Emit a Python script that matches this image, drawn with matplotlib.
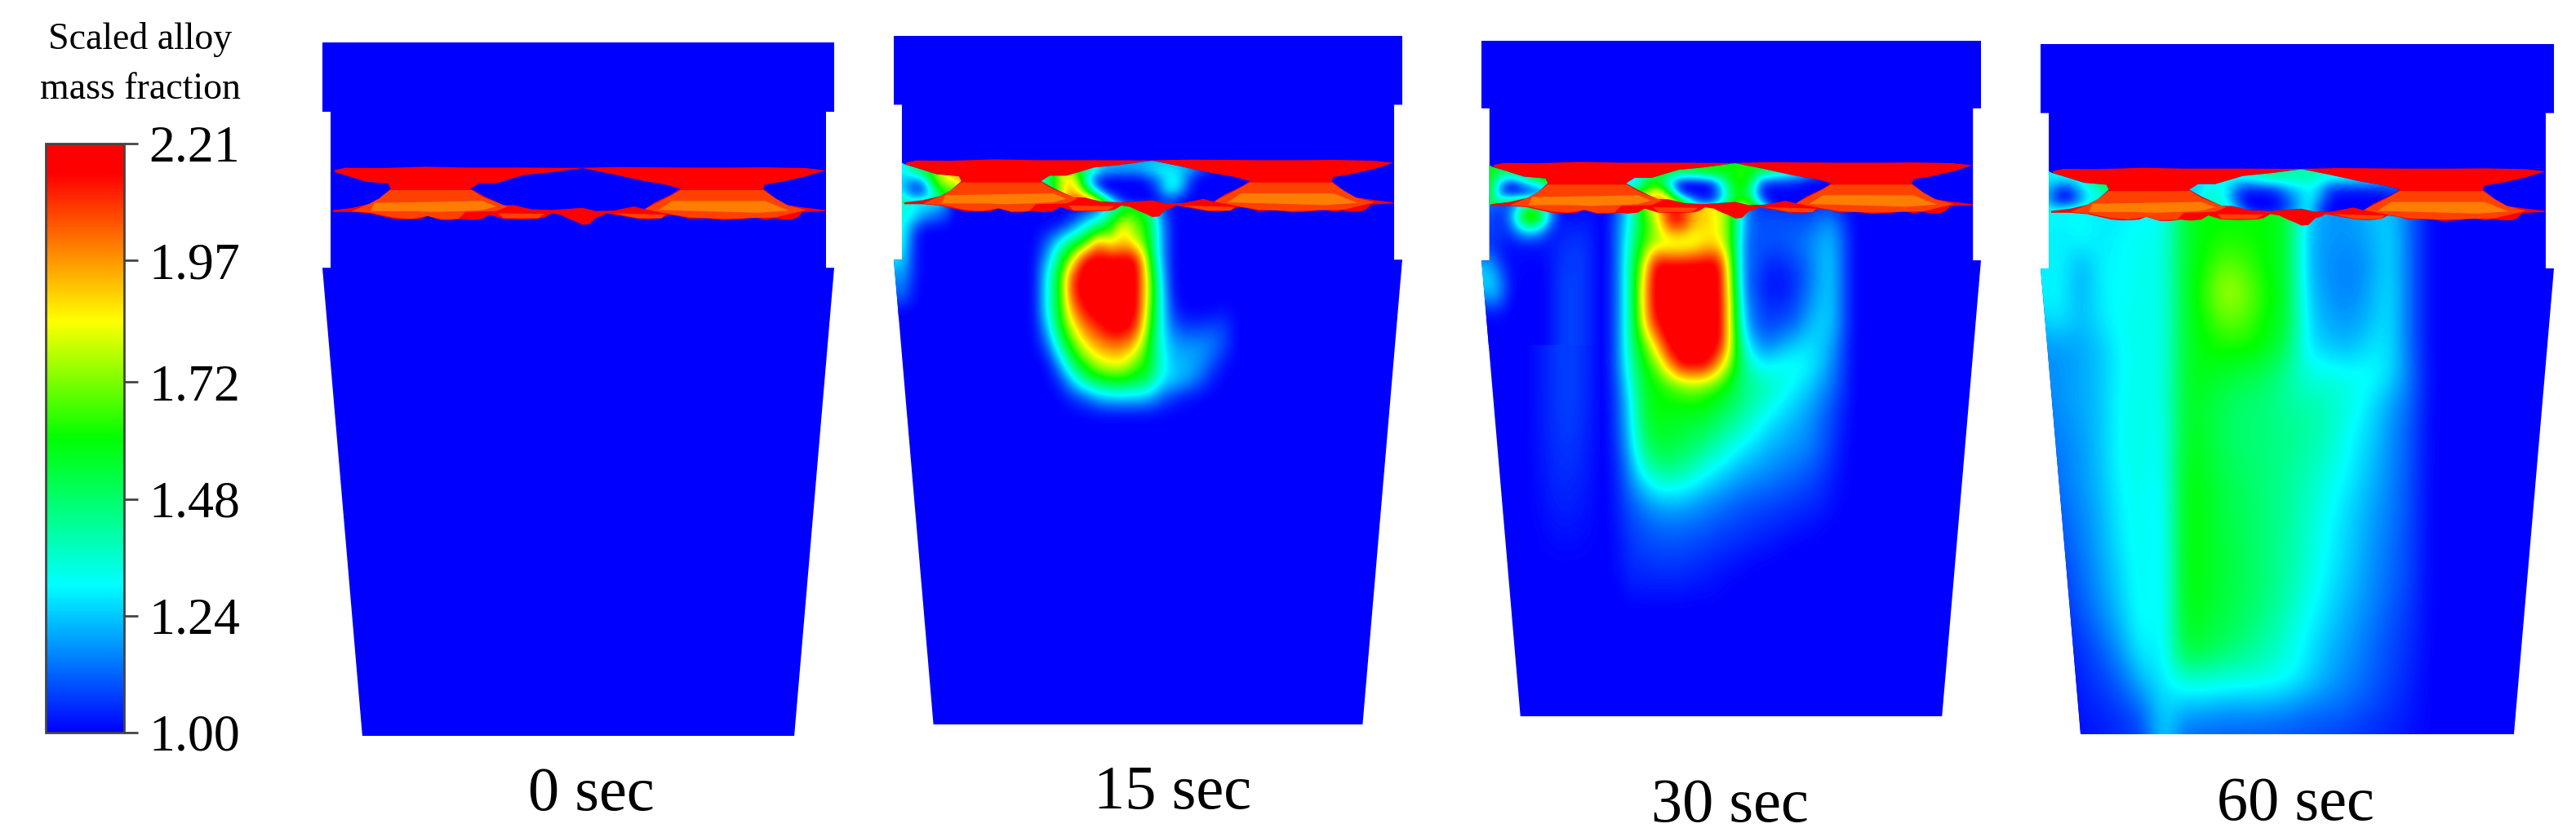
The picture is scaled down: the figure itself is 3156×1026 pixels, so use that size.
import numpy as np
import matplotlib
matplotlib.use("Agg")
import matplotlib.pyplot as plt
from matplotlib.cm import ScalarMappable
from matplotlib.colors import LinearSegmentedColormap, Normalize
from matplotlib.patches import Polygon

W, H = 3156, 1026
plt.rcParams['font.family'] = ['Liberation Serif', 'DejaVu Serif']

tick_values = [1.00, 1.24, 1.48, 1.72, 1.97, 2.21]
times = ["0 sec", "15 sec", "30 sec", "60 sec"]

# mould outline, % of the panel width / height (y goes down)
mould_x = [0, 100, 100, 98.4, 98.4, 100, 92.2, 7.8, 0, 1.6, 1.6, 0]
mould_y = [0, 0, 10, 10, 32.5, 32.5, 100, 100, 32.5, 32.5, 10, 10]

# slag band outlines, read in px of a crop of the first panel
band_u = [70, 100, 200, 330, 450, 600, 780, 900, 1100, 1230, 1320, 1440, 1495,
          1440, 1370, 1320, 1315, 1350, 1385, 1440, 1495,
          1495, 1460, 1430, 1415, 1400, 1375, 1350, 1320, 1290, 1250, 1200, 1150, 1100, 1070, 1040,
          1020, 985, 950, 905, 860, 845, 830, 810, 790, 770, 750, 725, 700, 680, 660, 610, 560,
          520, 500, 470, 440, 410, 380, 340, 320, 300, 270, 240, 205, 170, 120, 65,
          65, 120, 170, 200, 232, 225, 160, 110, 70]
band_v = [112, 104, 105, 100, 103, 103, 104, 101, 103, 103, 102, 105, 113,
          135, 155, 165, 180, 215, 240, 250, 258,
          262, 264, 266, 285, 292, 293, 288, 292, 285, 292, 295, 288, 290, 280, 275,
          288, 292, 290, 280, 270, 280, 285, 310, 312, 300, 290, 275, 270, 285, 290, 292, 290,
          275, 290, 294, 290, 295, 295, 280, 290, 292, 293, 290, 280, 270, 265, 265,
          258, 250, 235, 215, 180, 162, 155, 135, 120]
eye_u = [465, 490, 540, 620, 700, 790, 870, 960, 1030, 1075, 1050, 1000, 970, 940, 880, 830,
         790, 700, 640, 590, 560, 500]
eye_v = [180, 160, 160, 130, 120, 105, 125, 150, 165, 180, 200, 230, 255, 245, 260, 262,
         250, 258, 255, 240, 240, 205]
notch_u = [58, 70, 110, 160, 225, 232, 200, 170, 120, 65, 58]
notch_v = [113, 120, 135, 155, 162, 180, 215, 235, 250, 258, 262]
mid_left_u = [232, 468, 500, 572, 540, 450, 430, 380, 340, 290, 240, 175, 120, 170, 200]
mid_left_v = [185, 185, 210, 245, 262, 265, 290, 292, 280, 290, 285, 268, 262, 235, 212]
mid_right_u = [1075, 1315, 1350, 1385, 1440, 1350, 1200, 1100, 1040, 970, 1040]
mid_right_v = [185, 185, 215, 240, 258, 285, 290, 285, 272, 255, 210]
light_left_u = [185, 500, 540, 500, 440, 360, 300, 175]
light_left_v = [232, 225, 245, 258, 262, 265, 262, 262]
light_right_u = [1050, 1320, 1390, 1300, 1130, 1010]
light_right_v = [225, 225, 260, 268, 262, 258]
fringe_left_u = [545, 680, 660, 560]
fringe_left_v = [270, 272, 288, 288]
fringe_right_u = [880, 1030, 1020, 950]
fringe_right_v = [270, 275, 288, 288]

MID_VALUE = 2.07
LIGHT_VALUE = 2.0

# fields below: rows top to bottom, values in scaled alloy mass fraction
notch_xs = [0, 14]
notch_ys = [18, 27]
eye_xs = [28, 72]
eye_ys = [18, 27]

p15_plume_xs = [27.5, 67.5]
p15_plume_ys = [25, 55]
p15_plume = [
    [1, 1, 1, 1, 1, 1.1, 1.3, 1.5, 1.6, 1.5, 1.1, 1, 1, 1, 1, 1, 1],
    [1, 1, 1, 1.1, 1.3, 1.4, 1.6, 1.9, 1.7, 1.6, 1.2, 1, 1, 1, 1, 1, 1],
    [1, 1.1, 1.3, 1.5, 1.6, 2.0, 1.8, 1.9, 1.8, 1.6, 1.2, 1, 1, 1, 1, 1, 1],
    [1, 1.2, 1.5, 1.8, 2.2, 2.2, 2.2, 2.2, 2.2, 1.7, 1.2, 1, 1, 1, 1, 1, 1],
    [1, 1.3, 1.6, 2.1, 2.2, 2.2, 2.2, 2.2, 2.2, 1.8, 1.25, 1, 1, 1, 1, 1, 1],
    [1, 1.3, 1.6, 2.1, 2.2, 2.2, 2.2, 2.2, 2.2, 1.8, 1.3, 1, 1, 1, 1, 1, 1],
    [1, 1.3, 1.6, 1.95, 2.15, 2.2, 2.2, 2.2, 2.2, 1.75, 1.3, 1.05, 1, 1, 1, 1.02, 1],
    [1, 1.2, 1.55, 1.8, 2.0, 2.1, 2.2, 2.2, 2.1, 1.7, 1.3, 1.12, 1.08, 1.08, 1.1, 1.08, 1],
    [1, 1.1, 1.4, 1.65, 1.85, 1.95, 2.0, 2.0, 1.9, 1.6, 1.32, 1.2, 1.18, 1.18, 1.15, 1.08, 1],
    [1, 1, 1.2, 1.5, 1.65, 1.8, 1.85, 1.85, 1.7, 1.6, 1.35, 1.22, 1.22, 1.18, 1.1, 1.02, 1],
    [1, 1, 1.05, 1.25, 1.45, 1.55, 1.6, 1.6, 1.55, 1.5, 1.3, 1.25, 1.2, 1.12, 1.03, 1, 1],
    [1, 1, 1, 1.05, 1.1, 1.2, 1.25, 1.25, 1.25, 1.22, 1.12, 1.05, 1.02, 1, 1, 1, 1],
    [1, 1, 1, 1, 1, 1, 1, 1, 1, 1, 1, 1, 1, 1, 1, 1, 1],
]
p15_wall_xs = [0, 12]
p15_wall_ys = [24, 40]
p15_wall = [
    [1.3, 1.35, 1.3, 1.3, 1.3, 1.2, 1],
    [1.35, 1.35, 1.3, 1.2, 1.15, 1.1, 1],
    [1.35, 1.3, 1.1, 1, 1, 1, 1],
    [1.35, 1.3, 1.05, 1, 1, 1, 1],
    [1.3, 1.25, 1.05, 1, 1, 1, 1],
    [1.2, 1.2, 1.05, 1, 1, 1, 1],
    [1.15, 1.15, 1.03, 1, 1, 1, 1],
    [1.1, 1.1, 1.02, 1, 1, 1, 1],
    [1, 1, 1, 1, 1, 1, 1],
]
p15_notch = [
    [1.3, 1.3, 1.4, 1.5, 1.6, 1.8, 1.9, 2.0],
    [1.3, 1.3, 1.5, 1.6, 1.7, 1.8, 2.0, 2.1],
    [1.25, 1.25, 1.15, 1.25, 1.7, 1.8, 1.9, 1.95],
    [1.3, 1.25, 1.05, 1.1, 1.4, 1.7, 1.6, 1.8],
    [1.4, 1.4, 1.3, 1.35, 1.4, 1.5, 1.7, 1.9],
    [1.5, 1.6, 1.7, 1.8, 1.9, 2.0, 2.0, 2.0],
    [1.3, 1.3, 1.7, 1.8, 1.9, 2.0, 2.0, 2.0],
]
p15_eye = [
    [1.6, 1.6, 1.6, 1.7, 1.5, 1.4, 1.3, 1.25, 1.2, 1.2, 1.2, 1.2, 1.2, 1.2, 1.2, 1.2, 1.2, 1.1, 1.05, 1, 1, 1, 1],
    [1.5, 1.5, 1.6, 1.8, 1.6, 1.5, 1.3, 1.2, 1.2, 1.2, 1.2, 1.25, 1.3, 1.3, 1.25, 1.2, 1.1, 1.05, 1, 1, 1, 1, 1],
    [1.4, 1.4, 1.7, 1.9, 1.8, 1.3, 1.05, 1, 1, 1, 1, 1.05, 1.15, 1.3, 1.3, 1.1, 1, 1, 1, 1, 1, 1, 1],
    [1.4, 1.4, 1.6, 1.9, 1.9, 1.6, 1.2, 1, 1, 1, 1, 1, 1.1, 1.3, 1.25, 1.05, 1, 1, 1, 1, 1, 1, 1],
    [1.8, 1.8, 1.8, 2.0, 2.1, 2.1, 1.9, 1.4, 1.1, 1, 1, 1, 1, 1.05, 1, 1, 1, 1, 1, 1, 1, 1, 1],
    [2.2, 2.2, 2.2, 2.2, 2.2, 2.2, 2.2, 2.0, 1.6, 1.3, 1.2, 1.2, 1.2, 1.2, 1.1, 1, 1, 1, 1, 1, 1, 1, 1],
    [2.2, 2.2, 2.2, 2.2, 2.2, 2.2, 2.2, 2.2, 2.2, 2.2, 2.2, 2.2, 2.2, 2.2, 2.2, 2.2, 2.2, 2.2, 2.2, 2.2, 2.2, 2.2, 2.2],
]

p30_plume_xs = [25, 75]
p30_plume_ys = [24, 87]
p30_plume = [
    [1, 1.1, 1.3, 1.7, 1.9, 2.1, 2.1, 1.9, 1.9, 1.8, 1.7, 1.2, 1.05, 1.05, 1.05, 1.05, 1.05, 1.05, 1.05, 1, 1],
    [1, 1.15, 1.35, 1.6, 1.75, 2.15, 2.2, 1.95, 1.9, 1.85, 1.65, 1.2, 1.1, 1.1, 1.1, 1.1, 1.1, 1.15, 1.18, 1.08, 1],
    [1, 1.15, 1.4, 1.65, 1.75, 1.7, 1.7, 1.75, 1.85, 1.85, 1.65, 1.15, 1.1, 1.1, 1.1, 1.12, 1.15, 1.2, 1.22, 1.1, 1],
    [1, 1.15, 1.45, 1.8, 2.2, 2.2, 2.2, 2.2, 2.2, 2.2, 1.7, 1.15, 1.1, 1.05, 1.05, 1.08, 1.12, 1.2, 1.24, 1.1, 1],
    [1, 1.15, 1.45, 1.9, 2.2, 2.2, 2.2, 2.2, 2.2, 2.2, 1.75, 1.15, 1.08, 1.02, 1.02, 1.05, 1.12, 1.2, 1.24, 1.1, 1],
    [1, 1.15, 1.45, 1.9, 2.2, 2.2, 2.2, 2.2, 2.2, 2.2, 1.8, 1.2, 1.1, 1.05, 1.05, 1.08, 1.15, 1.22, 1.24, 1.1, 1],
    [1, 1.15, 1.45, 1.85, 2.15, 2.2, 2.2, 2.2, 2.2, 2.2, 1.8, 1.25, 1.12, 1.08, 1.1, 1.12, 1.2, 1.25, 1.24, 1.1, 1],
    [1, 1.15, 1.45, 1.65, 1.9, 2.2, 2.2, 2.2, 2.2, 2.2, 1.8, 1.35, 1.2, 1.15, 1.2, 1.24, 1.27, 1.25, 1.2, 1.08, 1],
    [1, 1.15, 1.4, 1.6, 1.7, 1.95, 2.2, 2.2, 2.2, 1.95, 1.7, 1.45, 1.32, 1.3, 1.32, 1.32, 1.3, 1.25, 1.17, 1.07, 1],
    [1, 1.12, 1.35, 1.55, 1.6, 1.65, 1.7, 1.75, 1.7, 1.65, 1.55, 1.46, 1.42, 1.38, 1.34, 1.3, 1.26, 1.2, 1.14, 1.06, 1],
    [1, 1.1, 1.3, 1.54, 1.6, 1.6, 1.6, 1.6, 1.58, 1.54, 1.5, 1.44, 1.38, 1.33, 1.29, 1.25, 1.21, 1.16, 1.1, 1.04, 1],
    [1, 1.1, 1.28, 1.5, 1.57, 1.57, 1.55, 1.54, 1.52, 1.47, 1.42, 1.37, 1.32, 1.27, 1.24, 1.21, 1.18, 1.13, 1.08, 1.03, 1],
    [1, 1.08, 1.25, 1.45, 1.53, 1.53, 1.51, 1.48, 1.44, 1.38, 1.34, 1.29, 1.26, 1.22, 1.2, 1.18, 1.16, 1.12, 1.07, 1.02, 1],
    [1, 1.06, 1.2, 1.36, 1.44, 1.46, 1.44, 1.4, 1.34, 1.3, 1.26, 1.22, 1.2, 1.18, 1.16, 1.14, 1.12, 1.09, 1.05, 1.01, 1],
    [1, 1.05, 1.15, 1.24, 1.31, 1.33, 1.31, 1.28, 1.24, 1.21, 1.18, 1.16, 1.14, 1.13, 1.11, 1.1, 1.08, 1.06, 1.03, 1.01, 1],
    [1, 1.04, 1.1, 1.15, 1.19, 1.2, 1.2, 1.18, 1.16, 1.14, 1.12, 1.1, 1.09, 1.08, 1.07, 1.06, 1.05, 1.04, 1.02, 1, 1],
    [1, 1.03, 1.08, 1.1, 1.12, 1.13, 1.13, 1.12, 1.11, 1.09, 1.08, 1.07, 1.06, 1.05, 1.04, 1.03, 1.02, 1.01, 1, 1, 1],
    [1, 1.02, 1.06, 1.08, 1.09, 1.09, 1.09, 1.08, 1.07, 1.06, 1.05, 1.04, 1.03, 1.02, 1.01, 1, 1, 1, 1, 1, 1],
    [1, 1.02, 1.05, 1.05, 1.06, 1.06, 1.06, 1.05, 1.04, 1.03, 1.02, 1.01, 1, 1, 1, 1, 1, 1, 1, 1, 1],
    [1, 1, 1.03, 1.03, 1.03, 1.03, 1.03, 1.02, 1.02, 1.01, 1, 1, 1, 1, 1, 1, 1, 1, 1, 1, 1],
    [1, 1, 1, 1, 1, 1, 1, 1, 1, 1, 1, 1, 1, 1, 1, 1, 1, 1, 1, 1, 1],
    [1, 1, 1, 1, 1, 1, 1, 1, 1, 1, 1, 1, 1, 1, 1, 1, 1, 1, 1, 1, 1],
]
p30_streak_xs = [9, 24]
p30_streak_ys = [47, 77]
p30_streak = [
    [1, 1.03, 1.07, 1.08, 1.05, 1],
    [1, 1.03, 1.07, 1.08, 1.05, 1],
    [1, 1.03, 1.06, 1.07, 1.04, 1],
    [1, 1.02, 1.05, 1.05, 1.03, 1],
    [1, 1.01, 1.03, 1.03, 1.02, 1],
    [1, 1, 1, 1, 1, 1],
]
p30_wall_xs = [0, 24]
p30_wall_ys = [24, 44]
p30_wall = [
    [1.15, 1.15, 1.1, 1.1, 1.2, 1.3, 1.3, 1.1, 1, 1, 1, 1, 1],
    [1.1, 1.08, 1.05, 1.2, 1.6, 1.85, 1.6, 1.2, 1.02, 1.02, 1.02, 1.02, 1],
    [1.08, 1.08, 1.05, 1.1, 1.25, 1.3, 1.2, 1.05, 1.03, 1.04, 1.04, 1.03, 1],
    [1.06, 1.06, 1.04, 1.02, 1.03, 1.03, 1.03, 1.03, 1.05, 1.06, 1.06, 1.04, 1],
    [1.15, 1.12, 1.04, 1.01, 1.01, 1.01, 1.01, 1.03, 1.06, 1.07, 1.07, 1.04, 1],
    [1.25, 1.22, 1.1, 1.01, 1.01, 1, 1, 1.03, 1.06, 1.07, 1.07, 1.04, 1],
    [1.25, 1.25, 1.15, 1.02, 1, 1, 1, 1.03, 1.07, 1.08, 1.07, 1.04, 1],
    [1.15, 1.2, 1.12, 1.01, 1, 1, 1, 1.03, 1.07, 1.08, 1.07, 1.04, 1],
    [1.02, 1.04, 1.03, 1, 1, 1, 1, 1.03, 1.07, 1.08, 1.07, 1.04, 1],
    [1, 1, 1, 1, 1, 1, 1, 1.03, 1.07, 1.08, 1.07, 1.04, 1],
    [1, 1, 1, 1, 1, 1, 1, 1.03, 1.07, 1.08, 1.07, 1.04, 1],
]
p30_notch = [
    [1.6, 1.6, 1.5, 1.6, 1.7, 1.8, 2, 2],
    [1.65, 1.6, 1.5, 1.5, 1.6, 1.6, 1.8, 2],
    [1.7, 1.55, 1.2, 1.05, 1.2, 1.35, 1.4, 1.6],
    [1.7, 1.5, 1.1, 1, 1, 1.05, 1.1, 1.3],
    [1.65, 1.5, 1.5, 1.6, 1.7, 1.7, 1.8, 2],
    [1.5, 1.4, 1.5, 1.7, 1.9, 2, 2, 2],
    [1.5, 1.4, 1.5, 1.7, 1.9, 2, 2, 2],
]
p30_eye = [
    [1.3, 1.3, 1.4, 1.5, 1.6, 1.6, 1.6, 1.6, 1.6, 1.6, 1.6, 1.6, 1.6, 1.6, 1.6, 1.55, 1.5, 1.4, 1.3, 1.2, 1.1, 1, 1],
    [1.3, 1.3, 1.35, 1.5, 1.6, 1.55, 1.5, 1.5, 1.55, 1.6, 1.6, 1.6, 1.65, 1.6, 1.5, 1.45, 1.4, 1.35, 1.3, 1.2, 1.1, 1, 1],
    [1.3, 1.2, 1.4, 1.6, 1.5, 1.2, 1, 1, 1, 1.05, 1.3, 1.55, 1.65, 1.5, 1.1, 1.05, 1.05, 1.05, 1.02, 1, 1, 1, 1],
    [1.7, 1.6, 1.6, 1.8, 1.9, 1.5, 1.05, 1, 1, 1, 1.2, 1.5, 1.6, 1.4, 1.05, 1, 1, 1, 1, 1, 1, 1, 1],
    [2, 2, 2, 2, 2, 2, 1.7, 1.3, 1.1, 1.1, 1.3, 1.5, 1.7, 1.6, 1.2, 1, 1, 1, 1, 1, 1, 1, 1],
    [2.2, 2.2, 2.2, 2.2, 2.2, 2.2, 2.2, 2, 1.8, 1.8, 1.9, 2, 2, 2, 1.8, 1.3, 1, 1, 1, 1, 1, 1, 1],
    [2.2, 2.2, 2.2, 2.2, 2.2, 2.2, 2.2, 2.2, 2.2, 2.2, 2.2, 2.2, 2.2, 2.2, 2.2, 2.2, 2.2, 2.2, 2.2, 2.2, 2.2, 2.2, 2.2],
]

p60_field_xs = [0, 76]
p60_field_ys = [24, 100]
p60_field = [
    [1.3, 1.3, 1.3, 1.28, 1.28, 1.3, 1.3, 1.55, 1.6, 1.6, 1.6, 1.6, 1.55, 1.25, 1.18, 1.18, 1.22, 1.25, 1.12, 1],
    [1.3, 1.28, 1.32, 1.28, 1.3, 1.32, 1.32, 1.55, 1.6, 1.62, 1.62, 1.6, 1.55, 1.22, 1.18, 1.18, 1.2, 1.27, 1.12, 1],
    [1.28, 1.3, 1.2, 1.3, 1.3, 1.33, 1.33, 1.55, 1.62, 1.7, 1.66, 1.6, 1.55, 1.22, 1.17, 1.15, 1.18, 1.27, 1.12, 1],
    [1.3, 1.3, 1.2, 1.3, 1.3, 1.33, 1.32, 1.55, 1.65, 1.78, 1.72, 1.62, 1.55, 1.24, 1.18, 1.15, 1.2, 1.28, 1.12, 1],
    [1.25, 1.28, 1.22, 1.28, 1.32, 1.33, 1.32, 1.55, 1.62, 1.7, 1.68, 1.6, 1.55, 1.26, 1.2, 1.18, 1.22, 1.28, 1.12, 1],
    [1.18, 1.18, 1.2, 1.24, 1.31, 1.33, 1.32, 1.55, 1.6, 1.62, 1.62, 1.58, 1.5, 1.28, 1.24, 1.22, 1.27, 1.28, 1.12, 1],
    [1.16, 1.18, 1.2, 1.24, 1.31, 1.33, 1.32, 1.56, 1.58, 1.55, 1.52, 1.5, 1.42, 1.34, 1.34, 1.32, 1.32, 1.27, 1.14, 1],
    [1.15, 1.18, 1.2, 1.24, 1.32, 1.33, 1.32, 1.56, 1.55, 1.5, 1.48, 1.46, 1.42, 1.4, 1.38, 1.34, 1.28, 1.2, 1.12, 1],
    [1.13, 1.16, 1.19, 1.24, 1.32, 1.33, 1.3, 1.57, 1.55, 1.5, 1.47, 1.46, 1.44, 1.42, 1.38, 1.31, 1.26, 1.18, 1.1, 1],
    [1.12, 1.15, 1.18, 1.24, 1.32, 1.33, 1.3, 1.58, 1.56, 1.5, 1.48, 1.46, 1.44, 1.4, 1.36, 1.3, 1.24, 1.17, 1.1, 1],
    [1.1, 1.14, 1.18, 1.23, 1.31, 1.33, 1.28, 1.6, 1.57, 1.52, 1.49, 1.46, 1.43, 1.38, 1.33, 1.28, 1.22, 1.16, 1.09, 1],
    [1.08, 1.12, 1.16, 1.22, 1.3, 1.32, 1.28, 1.6, 1.58, 1.52, 1.5, 1.46, 1.43, 1.37, 1.31, 1.26, 1.2, 1.15, 1.09, 1],
    [1.06, 1.1, 1.15, 1.21, 1.29, 1.33, 1.27, 1.6, 1.58, 1.53, 1.5, 1.46, 1.42, 1.36, 1.3, 1.25, 1.19, 1.14, 1.08, 1],
    [1.04, 1.08, 1.13, 1.2, 1.27, 1.33, 1.27, 1.6, 1.58, 1.54, 1.5, 1.46, 1.42, 1.35, 1.29, 1.24, 1.18, 1.13, 1.08, 1],
    [1.02, 1.06, 1.12, 1.18, 1.26, 1.33, 1.27, 1.6, 1.57, 1.53, 1.5, 1.46, 1.4, 1.33, 1.27, 1.22, 1.17, 1.12, 1.07, 1],
    [1.01, 1.04, 1.09, 1.15, 1.23, 1.33, 1.27, 1.58, 1.55, 1.52, 1.48, 1.43, 1.37, 1.3, 1.25, 1.2, 1.15, 1.1, 1.06, 1],
    [1, 1.03, 1.06, 1.11, 1.19, 1.3, 1.27, 1.55, 1.52, 1.48, 1.44, 1.4, 1.34, 1.28, 1.22, 1.18, 1.13, 1.09, 1.05, 1],
    [1, 1.02, 1.04, 1.08, 1.13, 1.24, 1.28, 1.36, 1.36, 1.35, 1.34, 1.33, 1.31, 1.26, 1.2, 1.16, 1.12, 1.08, 1.04, 1],
    [1, 1.01, 1.03, 1.05, 1.08, 1.14, 1.27, 1.22, 1.22, 1.2, 1.2, 1.2, 1.18, 1.15, 1.14, 1.12, 1.09, 1.06, 1.03, 1],
    [1, 1, 1.02, 1.03, 1.05, 1.08, 1.27, 1.12, 1.12, 1.11, 1.11, 1.1, 1.1, 1.09, 1.08, 1.07, 1.05, 1.04, 1.02, 1],
]
p60_notch = [
    [1.3, 1.3, 1.3, 1.35, 1.4, 1.5, 1.6, 1.8],
    [1.25, 1.3, 1.3, 1.3, 1.35, 1.45, 1.6, 1.8],
    [1.25, 1.2, 1.05, 1.1, 1.25, 1.35, 1.4, 1.5],
    [1.3, 1.15, 1, 1.02, 1.2, 1.3, 1.3, 1.5],
    [1.35, 1.3, 1.3, 1.35, 1.35, 1.5, 1.7, 2],
    [1.4, 1.4, 1.5, 1.7, 1.9, 2, 2, 2],
    [1.4, 1.4, 1.5, 1.7, 1.9, 2, 2, 2],
]
p60_eye = [
    [1.3, 1.3, 1.3, 1.35, 1.45, 1.4, 1.4, 1.4, 1.4, 1.45, 1.4, 1.4, 1.4, 1.4, 1.4, 1.4, 1.35, 1.3, 1.3, 1.25, 1.2, 1.1, 1.1],
    [1.3, 1.3, 1.3, 1.3, 1.3, 1.3, 1.3, 1.35, 1.4, 1.4, 1.4, 1.4, 1.4, 1.35, 1.3, 1.3, 1.3, 1.3, 1.3, 1.25, 1.2, 1.1, 1.1],
    [1.3, 1.2, 1.3, 1.35, 1.3, 1.15, 1.05, 1.05, 1.05, 1.1, 1.2, 1.25, 1.3, 1.25, 1.1, 1.05, 1.05, 1.05, 1.05, 1.05, 1.1, 1.1, 1.1],
    [1.35, 1.3, 1.35, 1.35, 1.3, 1.1, 1, 1, 1, 1.02, 1.1, 1.2, 1.3, 1.2, 1.05, 1, 1, 1, 1, 1, 1.02, 1.02, 1.02],
    [1.6, 1.5, 1.4, 1.4, 1.4, 1.25, 1.05, 1, 1, 1.02, 1.1, 1.2, 1.3, 1.1, 1, 1, 1, 1, 1, 1, 1, 1, 1],
    [1.8, 1.8, 1.7, 1.7, 1.7, 1.6, 1.4, 1.2, 1.2, 1.2, 1.2, 1.3, 1.3, 1.2, 1.05, 1, 1, 1, 1, 1, 1, 1, 1],
    [2.2, 2.2, 2.2, 2.2, 2.2, 2.2, 2.2, 2.2, 2.2, 2.2, 2.2, 2.2, 2.2, 2.2, 2.2, 2.2, 2.2, 2.2, 2.2, 2.2, 2.2, 2.2, 2.2],
]

# pixel boxes of the axes: left, top, right, bottom
panel_boxes = [(395, 52, 1022, 902), (1095, 44, 1718, 888), (1815, 50, 2427, 878), (2500, 54, 3129, 900)]
label_x = [724, 1437, 2119, 2812]
label_y = [974, 972, 988, 986]

cmap = LinearSegmentedColormap.from_list("alloy", [
    (0.0, (0, 0, 1)), (0.25, (0, 1, 1)), (0.5, (0, 1, 0)),
    (0.7, (1, 1, 0)), (0.95, (1, 0, 0)), (1.0, (1, 0, 0))])
norm = Normalize(1.0, 2.21)


def to_local(u, v):
    # crop px -> % of the panel
    x = 1.6 + (np.array(u) - 58) / 14.87
    y = (170 + np.array(v) / 3 - 52) / 8.44
    return np.column_stack([x, y])


def add_axes(box):
    left, top, right, bottom = box
    return fig.add_axes([left / W, 1 - bottom / H, (right - left) / W, (bottom - top) / H])


def draw_window(ax, xs, ys, grid, clip):
    grid = np.array(grid, dtype=float)
    dx = (xs[1] - xs[0]) / (grid.shape[1] - 1) / 2
    dy = (ys[1] - ys[0]) / (grid.shape[0] - 1) / 2
    im = ax.imshow(grid, cmap=cmap, norm=norm, aspect='auto', interpolation='bicubic',
                   extent=(xs[0] - dx, xs[1] + dx, ys[1] + dy, ys[0] - dy), zorder=2)
    im.set_clip_path(clip)


def draw_band(ax, clip):
    red = cmap(norm(2.21))
    mid = cmap(norm(MID_VALUE))
    light = cmap(norm(LIGHT_VALUE))
    layers = [(band_u, band_v, red), (mid_left_u, mid_left_v, mid), (mid_right_u, mid_right_v, mid),
              (light_left_u, light_left_v, light), (light_right_u, light_right_v, light),
              (fringe_left_u, fringe_left_v, mid), (fringe_right_u, fringe_right_v, mid)]
    for u, v, colour in layers:
        p = Polygon(to_local(u, v), closed=True, fc=colour, ec='none', zorder=3)
        ax.add_patch(p)
        p.set_clip_path(clip)


fig = plt.figure(figsize=(W / 100, H / 100), dpi=100, facecolor='white')

windows = [
    [],
    [(p15_wall_xs, p15_wall_ys, p15_wall), (p15_plume_xs, p15_plume_ys, p15_plume)],
    [(p30_streak_xs, p30_streak_ys, p30_streak), (p30_wall_xs, p30_wall_ys, p30_wall),
     (p30_plume_xs, p30_plume_ys, p30_plume)],
    [(p60_field_xs, p60_field_ys, p60_field)],
]
notches = [None, p15_notch, p30_notch, p60_notch]
eyes = [None, p15_eye, p30_eye, p60_eye]

for i, box in enumerate(panel_boxes):
    ax = add_axes(box)
    ax.set_axis_off()
    mould = Polygon(np.column_stack([mould_x, mould_y]), closed=True, fc=cmap(0.0), ec='none', zorder=1)
    ax.add_patch(mould)
    for xs, ys, grid in windows[i]:
        draw_window(ax, xs, ys, grid, mould)
    draw_band(ax, mould)
    eye = Polygon(to_local(eye_u, eye_v), closed=True, fc=cmap(0.0), ec='none', zorder=4)
    ax.add_patch(eye)
    notch = Polygon(to_local(notch_u, notch_v), closed=True, fc=cmap(0.0), ec='none', zorder=4)
    ax.add_patch(notch)
    if notches[i] is not None:
        for xs, ys, grid, clip in [(notch_xs, notch_ys, notches[i], notch), (eye_xs, eye_ys, eyes[i], eye)]:
            draw_window(ax, xs, ys, grid, clip)
            ax.images[-1].set_zorder(5)
    ax.set_xlim(0, 100)
    ax.set_ylim(100, 0)
    fig.text(label_x[i] / W, 1 - label_y[i] / H, times[i], fontsize=55, ha='center', va='center')

cax = add_axes((56, 176, 152, 898))
cb = fig.colorbar(ScalarMappable(norm=norm, cmap=cmap), cax=cax, ticks=tick_values)
cb.ax.set_yticklabels(["%.2f" % t for t in tick_values])
cb.ax.tick_params(labelsize=46, length=12, width=2, color='#444444', pad=10)
cb.outline.set_edgecolor('#444444')
cb.outline.set_linewidth(2)

fig.text(172 / W, 1 - 49 / H, "Scaled alloy", fontsize=33, ha='center', va='center')
fig.text(172 / W, 1 - 110 / H, "mass fraction", fontsize=33, ha='center', va='center')

fig.savefig("out.png", dpi=100)
